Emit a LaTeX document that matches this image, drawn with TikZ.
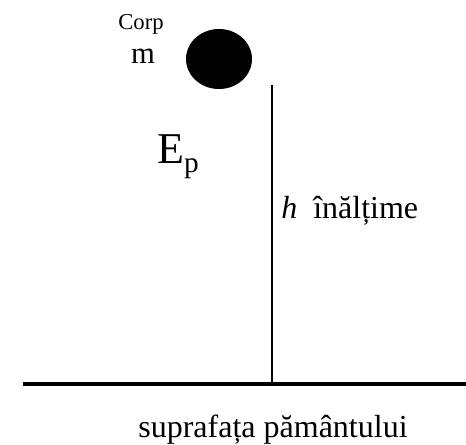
\documentclass[tikz,border=0pt]{standalone}
\usepackage{fontspec}
\setmainfont{Liberation Serif}
\usetikzlibrary{positioning,shapes.geometric}
\newcommand{\fsz}[1]{\fontsize{#1}{#1}\selectfont}

\begin{document}
\begin{tikzpicture}[x=0.75pt,y=-0.75pt,
    txt/.style={inner sep=0pt, anchor=base}]
  \useasboundingbox (0,0) rectangle (466,444);

  % Ground and height
  \coordinate (gl) at (23,384);
  \coordinate (gr) at (466,384);
  \coordinate (htop) at (272,85);
  \coordinate (hbot) at (272,384);
  \draw[line width=3pt] (gl) -- (gr);
  \draw[line width=1pt] (htop) -- (hbot);

  % Body
  \node[ellipse, fill=black, inner sep=0pt, minimum width=49.5pt, minimum height=45pt] (corp) at (219,59) {};

  % Labels
  \node[txt, font=\fsz{17}] (corplbl) at (141,29) {Corp};
  \node[txt, font=\fsz{23}] (mass) at (143,63) {m};
  \node[txt, anchor=base west, font=\fsz{33}] (ep) at (157,163) {E\raisebox{-6.75pt}{\fsz{22}p}};
  \node[txt, anchor=base west, font=\fsz{24}] (hlbl) at (281,218) {\textit{h}\hspace{12pt}înălțime};
  \node[txt, font=\fsz{24}] (ground) at (273,437) {suprafața pământului};
\end{tikzpicture}
\end{document}
